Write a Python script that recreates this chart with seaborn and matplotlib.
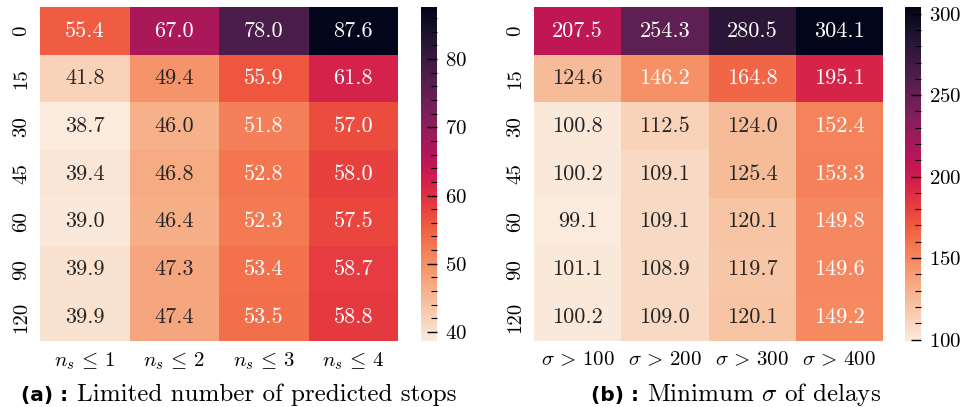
import matplotlib
matplotlib.use("Agg")
import matplotlib.pyplot as plt
import seaborn as sns
import numpy as np
from matplotlib.ticker import MultipleLocator

plt.rcParams['font.family'] = 'serif'
plt.rcParams['font.serif'] = ['cmr10']
plt.rcParams['mathtext.fontset'] = 'cm'
plt.rcParams['axes.unicode_minus'] = False
plt.rcParams['axes.formatter.use_mathtext'] = True

rows = ['0', '15', '30', '45', '60', '90', '120']
cols_a = [r'$n_s \,\leq\, 1$', r'$n_s \,\leq\, 2$', r'$n_s \,\leq\, 3$', r'$n_s \,\leq\, 4$']
cols_b = [r'$\sigma \,>\, 100$', r'$\sigma \,>\, 200$', r'$\sigma \,>\, 300$', r'$\sigma \,>\, 400$']

vals_a = [[55.4, 67.0, 78.0, 87.6],
          [41.8, 49.4, 55.9, 61.8],
          [38.7, 46.0, 51.8, 57.0],
          [39.4, 46.8, 52.8, 58.0],
          [39.0, 46.4, 52.3, 57.5],
          [39.9, 47.3, 53.4, 58.7],
          [39.9, 47.4, 53.5, 58.8]]
vals_b = [[207.5, 254.3, 280.5, 304.1],
          [124.6, 146.2, 164.8, 195.1],
          [100.8, 112.5, 124.0, 152.4],
          [100.2, 109.1, 125.4, 153.3],
          [99.1, 109.1, 120.1, 149.8],
          [101.1, 108.9, 119.7, 149.6],
          [100.2, 109.0, 120.1, 149.2]]

W, H = 963, 407
fig = plt.figure(figsize=(W / 100, H / 100), dpi=100)

def box(x0, x1, y_top, y_bot):
    return [x0 / W, (H - y_bot) / H, (x1 - x0) / W, (y_bot - y_top) / H]

ax_a = fig.add_axes(box(40, 398, 7, 341))
cax_a = fig.add_axes(box(421, 437, 7, 341))
ax_b = fig.add_axes(box(534, 883, 7, 341))
cax_b = fig.add_axes(box(905, 921, 7, 341))

cmap = sns.color_palette('rocket_r', as_cmap=True)
white_from = 0.224   # position on the colour scale where text turns white

fs_annot = 16
fs_tick = 15
for ax, cax, vals, cols, minor in [(ax_a, cax_a, vals_a, cols_a, 2),
                                   (ax_b, cax_b, vals_b, cols_b, 10)]:
    arr = np.array(vals)
    sns.heatmap(arr, ax=ax, cbar_ax=cax, cmap=cmap,
                annot=True, fmt='.1f', annot_kws={'fontsize': fs_annot},
                xticklabels=cols, yticklabels=rows)
    norm = ax.collections[0].norm
    for txt, v in zip(ax.texts, arr.ravel()):
        txt.set_color('w' if norm(v) > white_from else '#262626')
    ax.tick_params(axis='both', length=0, labelsize=fs_tick, pad=7)
    ax.set_yticklabels(rows, rotation=90, va='center')
    ax.set_xticklabels(cols, rotation=0)
    cax.yaxis.set_minor_locator(MultipleLocator(minor))
    cax.tick_params(which='major', direction='in', length=7, width=1,
                    labelsize=fs_tick, pad=6)
    cax.tick_params(which='minor', direction='in', length=4, width=0.8)

cap_fs = 18
bold_fs = 14.5
base = 6 / H
fig.text(21 / W, base, '(a) :', fontfamily='DejaVu Sans', fontweight='bold',
         fontsize=bold_fs, va='baseline', ha='left')
fig.text(77 / W, base, 'Limited number of predicted stops', fontsize=cap_fs,
         va='baseline', ha='left')
fig.text(591 / W, base, '(b) :', fontfamily='DejaVu Sans', fontweight='bold',
         fontsize=bold_fs, va='baseline', ha='left')
fig.text(647 / W, base, r'Minimum $\sigma$ of delays', fontsize=cap_fs,
         va='baseline', ha='left')

fig.savefig('out.png', dpi=100)
